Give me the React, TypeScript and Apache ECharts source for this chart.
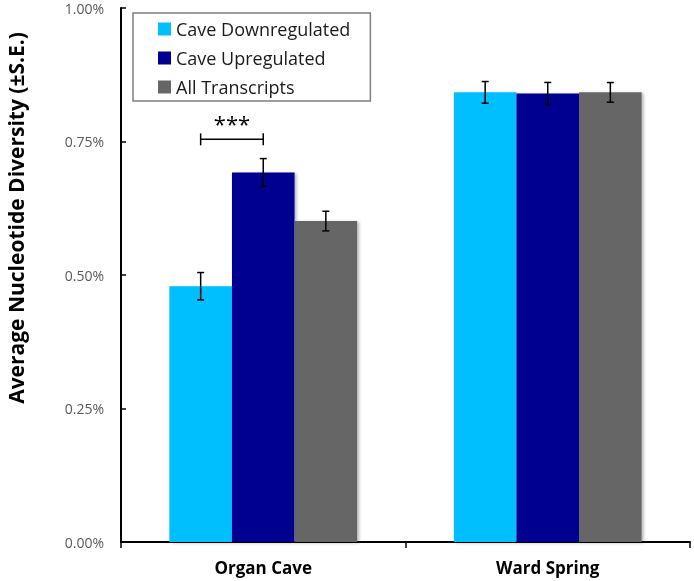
import React, { useEffect, useRef } from "react";
import * as echarts from "echarts";

const categories = ["Organ Cave", "Ward Spring"];
const seriesNames = ["Cave Downregulated", "Cave Upregulated", "All Transcripts"];
const downValues = [0.479, 0.842];
const upValues = [0.692, 0.84];
const allValues = [0.601, 0.842];
const downSE = [0.0256, 0.0203];
const upSE = [0.026, 0.0206];
const allSE = [0.0184, 0.0184];
const colors = ["#00BFFF", "#000090", "#666666"];
const yMin = 0;
const yMax = 1;
const yInterval = 0.25;
// significance bracket: category index, from series, to series, height (%), label
const bracketData = [[0, 0, 1, 0.754]];
const bracketLabel = "***";
const yTitle = "Average Nucleotide Diversity (\u00B1S.E.)";

const GAP = 0.34;
const FONT = '"Open Sans", "DejaVu Sans", sans-serif';

export default function App() {
  const ref = useRef<HTMLDivElement>(null);
  useEffect(() => {
    if (!ref.current) return;
    const chart = echarts.init(ref.current, null, { renderer: "svg" });
    const valuesList = [downValues, upValues, allValues];
    const seList = [downSE, upSE, allSE];
    const errData: number[][] = [];
    valuesList.forEach((vals, s) => {
      vals.forEach((v, c) => errData.push([c, s, v, seList[s][c]]));
    });

    const barSeries = seriesNames.map((name, i) => ({
      name,
      type: "bar",
      data: valuesList[i],
      barGap: "0%",
      barCategoryGap: GAP * 100 + "%",
      itemStyle: {
        color: colors[i],
        shadowColor: "rgba(0,0,0,0.28)",
        shadowBlur: 3,
        shadowOffsetX: 2,
        shadowOffsetY: 1,
      },
      z: 2,
    }));

    const option = {
      animation: false,
      grid: { left: 121, right: 4, top: 8, bottom: 39, containLabel: false },
      legend: {
        data: seriesNames,
        orient: "vertical",
        left: 133,
        top: 13,
        icon: "rect",
        itemWidth: 13,
        itemHeight: 13,
        itemGap: 11,
        padding: [7, 20, 5, 25],
        borderColor: "#7f7f7f",
        borderWidth: 1.5,
        textStyle: { fontFamily: FONT, fontSize: 18, color: "#1a1a1a", lineHeight: 18 },
      },
      xAxis: {
        type: "category",
        data: categories,
        axisLine: { lineStyle: { color: "#000", width: 2 } },
        axisTick: { show: true, length: 6, lineStyle: { color: "#000", width: 1.5 } },
        axisLabel: { fontFamily: FONT, fontSize: 17, fontWeight: "bold", color: "#000", margin: 17 },
      },
      yAxis: {
        type: "value",
        min: yMin,
        max: yMax,
        interval: yInterval,
        splitLine: { show: false },
        axisLine: { show: true, lineStyle: { color: "#000", width: 2 } },
        axisTick: { show: true, inside: true, length: 5, lineStyle: { color: "#000", width: 1.5 } },
        axisLabel: {
          fontFamily: FONT,
          fontSize: 14,
          color: "#595959",
          margin: 17,
          formatter: (v: number) => v.toFixed(2) + "%",
        },
      },
      graphic: [
        {
          type: "text",
          x: 16,
          y: 218,
          rotation: Math.PI / 2,
          style: {
            text: yTitle,
            font: "bold 21px " + FONT,
            fill: "#000",
            align: "center",
            verticalAlign: "middle",
          },
        },
      ],
      series: [
        ...barSeries,
        {
          type: "custom",
          name: "err",
          data: errData,
          encode: { x: 0, y: 2 },
          z: 5,
          renderItem: (params: any, api: any) => {
            const c = api.value(0);
            const s = api.value(1);
            const v = api.value(2);
            const se = api.value(3);
            const center = api.coord([c, v]);
            const catW = api.size([1, 0])[0];
            const barW = (catW * (1 - GAP)) / 3;
            const x = center[0] + (s - 1) * barW;
            const top = api.coord([c, v + se])[1];
            const bot = api.coord([c, v - se])[1];
            const hw = 3.5;
            const st = { stroke: "#000", lineWidth: 1.5 };
            return {
              type: "group",
              children: [
                { type: "line", shape: { x1: x, y1: top, x2: x, y2: bot }, style: st },
                { type: "line", shape: { x1: x - hw, y1: top, x2: x + hw, y2: top }, style: st },
                { type: "line", shape: { x1: x - hw, y1: bot, x2: x + hw, y2: bot }, style: st },
              ],
            };
          },
        },
        {
          type: "custom",
          name: "bracket",
          data: bracketData,
          encode: { x: 0, y: 3 },
          z: 5,
          renderItem: (params: any, api: any) => {
            const c = api.value(0);
            const s1 = api.value(1);
            const s2 = api.value(2);
            const v = api.value(3);
            const center = api.coord([c, v]);
            const catW = api.size([1, 0])[0];
            const barW = (catW * (1 - GAP)) / 3;
            const x1 = center[0] + (s1 - 1) * barW;
            const x2 = center[0] + (s2 - 1) * barW;
            const y = center[1];
            const st = { stroke: "#000", lineWidth: 1.5 };
            return {
              type: "group",
              children: [
                { type: "line", shape: { x1, y1: y, x2, y2: y }, style: st },
                { type: "line", shape: { x1, y1: y - 6, x2: x1, y2: y + 6 }, style: st },
                { type: "line", shape: { x1: x2, y1: y - 6, x2, y2: y + 6 }, style: st },
                {
                  type: "text",
                  x: (x1 + x2) / 2,
                  y: y - 16,
                  style: {
                    text: bracketLabel,
                    font: "22px " + FONT,
                    fill: "#000",
                    align: "center",
                    verticalAlign: "middle",
                  },
                },
              ],
            };
          },
        },
      ],
    };
    chart.setOption(option as any);
    return () => chart.dispose();
  }, []);
  return (
    <div
      ref={ref}
      style={{ position: "fixed", left: 0, top: 0, width: 694, height: 581 }}
    />
  );
}
